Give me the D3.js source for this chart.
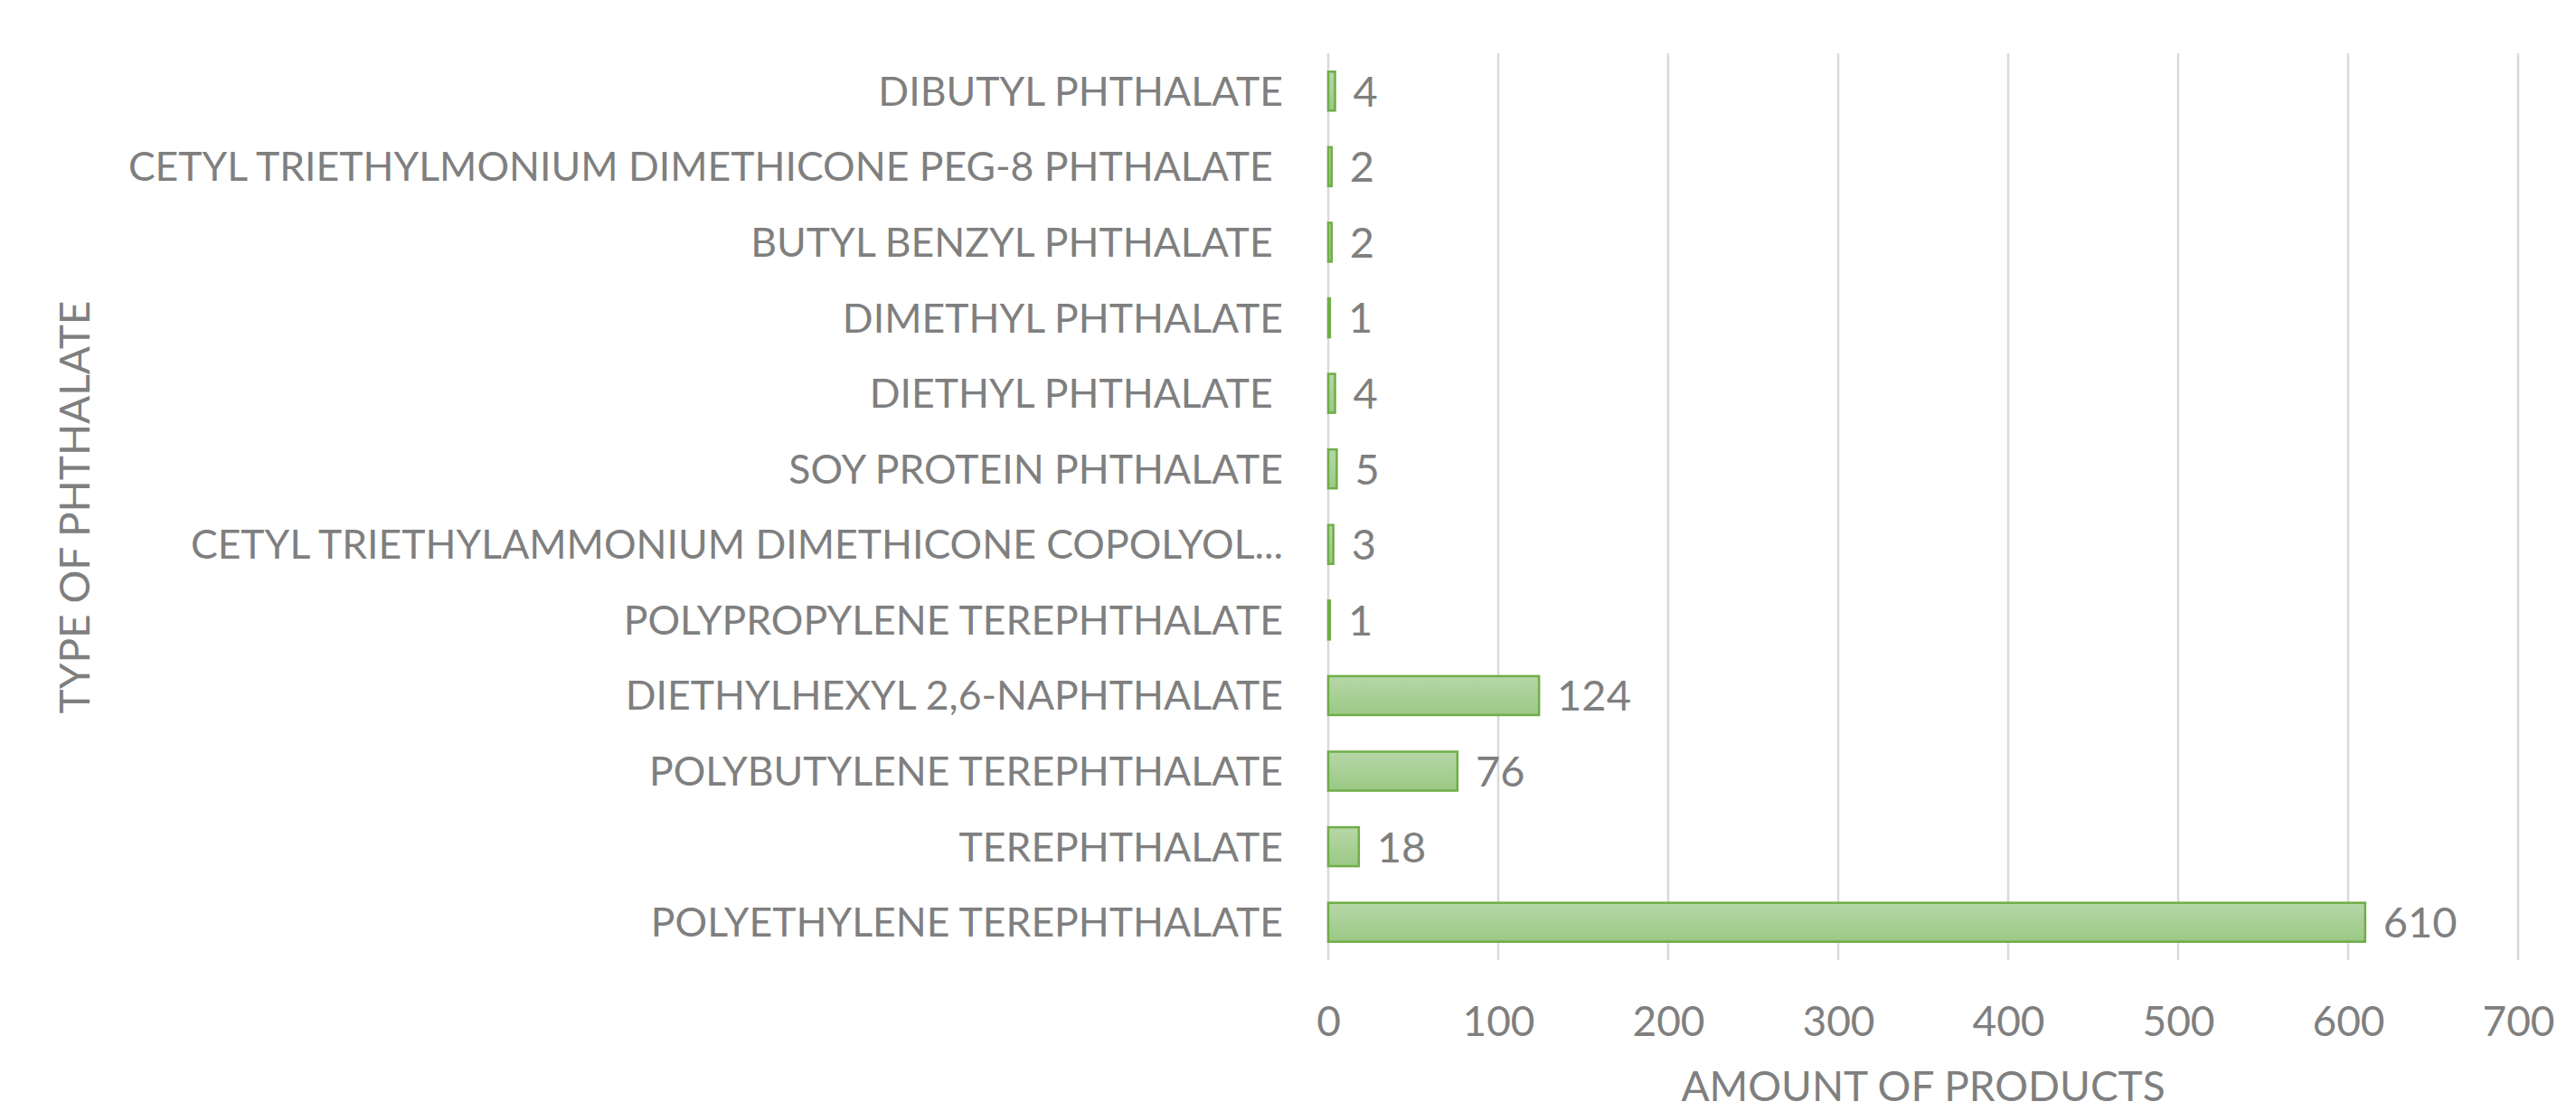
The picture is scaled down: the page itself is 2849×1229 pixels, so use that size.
<!DOCTYPE html>
<html>
<head>
<meta charset="utf-8">
<script src="https://cdn.jsdelivr.net/npm/d3@7"></script>
<style>
  body{margin:0;background:#fff}
  text{font-family:Lato, "Open Sans", sans-serif;fill:#7f7f7f}
</style>
</head>
<body>
<svg id="chart" width="2849" height="1229"></svg>
<script>
// categories top to bottom as in the picture
const categories = [
  'DIBUTYL PHTHALATE',
  'CETYL TRIETHYLMONIUM DIMETHICONE PEG-8 PHTHALATE ',
  'BUTYL BENZYL PHTHALATE ',
  'DIMETHYL PHTHALATE',
  'DIETHYL PHTHALATE ',
  'SOY PROTEIN PHTHALATE',
  'CETYL TRIETHYLAMMONIUM DIMETHICONE COPOLYOL...',
  'POLYPROPYLENE TEREPHTHALATE',
  'DIETHYLHEXYL 2,6-NAPHTHALATE',
  'POLYBUTYLENE TEREPHTHALATE',
  'TEREPHTHALATE',
  'POLYETHYLENE TEREPHTHALATE'
]
const amounts = [4, 2, 2, 1, 4, 5, 3, 1, 124, 76, 18, 610]
const xTicks = [0, 100, 200, 300, 400, 500, 600, 700]
const xTitle = 'AMOUNT OF PRODUCTS'
const yTitle = 'TYPE OF PHTHALATE'

const data = categories.map((c, i) => ({name: c, value: amounts[i]}))

const svg = d3.select('#chart')
const plotLeft = 1469, plotRight = 2785, plotTop = 59, plotBottom = 1062
const fs = 46

const x = d3.scaleLinear().domain([0, 700]).range([plotLeft, plotRight])
const y = d3.scaleBand().domain(categories).range([plotTop, plotBottom]).paddingInner(0.485).paddingOuter(0.2425)

const defs = svg.append('defs')
const grad = defs.append('linearGradient')
  .attr('id', 'barGrad').attr('x1', 0).attr('y1', 0).attr('x2', 0).attr('y2', 1)
grad.append('stop').attr('offset', '0%').attr('stop-color', '#b6d7a8')
grad.append('stop').attr('offset', '100%').attr('stop-color', '#9bc985')

// gridlines
svg.append('g')
  .selectAll('line')
  .data(xTicks)
  .enter()
  .append('line')
  .attr('x1', d => x(d)).attr('x2', d => x(d))
  .attr('y1', plotTop).attr('y2', plotBottom)
  .attr('stroke', '#d9d9d9')
  .attr('stroke-width', 2.5)

// bars
svg.append('g')
  .selectAll('rect')
  .data(data)
  .enter()
  .append('rect')
  .attr('x', x(0))
  .attr('y', d => y(d.name))
  .attr('width', d => x(d.value) - x(0))
  .attr('height', y.bandwidth())
  .attr('fill', 'url(#barGrad)')
  .attr('stroke', '#70ad47')
  .attr('stroke-width', 2.5)

// value labels
svg.append('g')
  .selectAll('text')
  .data(data)
  .enter()
  .append('text')
  .attr('x', d => x(d.value) + 20)
  .attr('y', d => y(d.name) + y.bandwidth() / 2)
  .attr('dy', '0.36em')
  .attr('font-size', 47)
  .text(d => d.value)

// category labels
svg.append('g')
  .selectAll('text')
  .data(data)
  .enter()
  .append('text')
  .attr('x', plotLeft - 50)
  .attr('y', d => y(d.name) + y.bandwidth() / 2)
  .attr('dy', '0.36em')
  .attr('text-anchor', 'end')
  .attr('font-size', 44.5)
  .style('white-space', 'pre')
  .text(d => d.name)

// x axis tick labels
const xAxis = d3.axisBottom(x).tickValues(xTicks).tickSize(0).tickPadding(0)
const ax = svg.append('g')
  .attr('transform', 'translate(0,1146)')
  .call(xAxis)
ax.select('.domain').remove()
ax.selectAll('text')
  .attr('font-size', fs)
  .attr('dy', null)
  .attr('fill', '#7f7f7f')
  .style('font-family', 'Lato, "Open Sans", sans-serif')

// axis titles
svg.append('text')
  .attr('x', (plotLeft + plotRight) / 2)
  .attr('y', 1218)
  .attr('text-anchor', 'middle')
  .attr('font-size', fs)
  .text(xTitle)

svg.append('text')
  .attr('transform', 'translate(99,561) rotate(-90)')
  .attr('text-anchor', 'middle')
  .attr('font-size', fs)
  .text(yTitle)
</script>
</body>
</html>
